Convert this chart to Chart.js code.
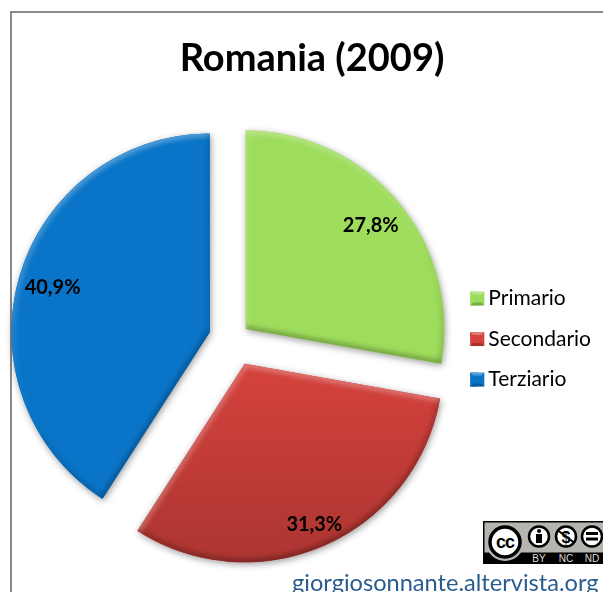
<!DOCTYPE html>
<html>
<head>
<meta charset="utf-8">
<title>Romania (2009)</title>
<script src="https://cdn.jsdelivr.net/npm/chart.js@4"></script>
<style>
    html, body { margin: 0; padding: 0; background: #fff; overflow: hidden; }
    #wrap { position: relative; width: 603px; height: 592px; overflow: hidden; }
    #frame { position: absolute; left: 10px; top: 11px; right: -5px; bottom: -5px; border-left: 2px solid #8a8a8a; border-top: 2px solid #8a8a8a; }
    canvas { position: absolute; left: 0; top: 0; }
    #badge { position: absolute; left: 483px; top: 521px; }
    #site { position: absolute; left: 292px; top: 568px; font: 23.6px Lato, sans-serif; color: #2b5c8f; white-space: nowrap; }
</style>
</head>
<body>
<div id="wrap">
    <div id="frame"></div>
    <canvas id="pie" width="603" height="592"></canvas>
    <svg id="badge" width="120" height="43" viewBox="0 0 120 43">
        <rect x="0" y="0" width="122" height="43" fill="#000"/>
        <rect x="1.5" y="1.5" width="120" height="30" fill="#b4b5ae"/>
        <circle cx="22" cy="21" r="19" fill="#b4b5ae"/>
        <circle cx="22" cy="21" r="15" fill="#fff" stroke="#000" stroke-width="3.5"/>
        <text x="22" y="27" text-anchor="middle" font-family="Liberation Sans" font-weight="bold" font-size="18" letter-spacing="-1">cc</text>
        <g fill="#fff" stroke="#000" stroke-width="2.5">
            <circle cx="56" cy="15.5" r="10"/>
            <circle cx="83" cy="15.5" r="10"/>
            <circle cx="109" cy="15.5" r="10"/>
        </g>
        <circle cx="56" cy="10" r="2"/>
        <rect x="53" y="13" width="6" height="9"/>
        <text x="83" y="21.5" text-anchor="middle" font-family="Liberation Sans" font-weight="bold" font-size="16">$</text>
        <line x1="75" y1="9.5" x2="91" y2="21.5" stroke="#000" stroke-width="2"/>
        <rect x="103" y="11" width="12" height="3"/>
        <rect x="103" y="16.5" width="12" height="3"/>
        <g fill="#ddd" font-family="Liberation Sans" font-size="10" text-anchor="middle">
            <text x="56" y="41">BY</text>
            <text x="83" y="41">NC</text>
            <text x="109" y="41">ND</text>
        </g>
    </svg>
    <div id="site">giorgiosonnante.altervista.org</div>
</div>
<script>
    const chartTitle = 'Romania (2009)';
    const sectors = ['Primario', 'Secondario', 'Terziario'];
    const shares = [27.8, 31.3, 40.9];
    const sliceColors = ['#9edc5c', '#d6423d', '#0a75c8'];

    // Chart.js only moves a slice by a quarter of its offset
    const sliceOffsets = [62, 108, 100];
    const pieRadius = 198.5;
    const labelDistance = [163, 174, 164];

    // ArcElement also grows wide slices when they are offset, this is how much
    function arcGrowth(arc) {
        return arc.options.offset / 4 * (1 - Math.sin(Math.min(Math.PI, arc.circumference)));
    }

    function sliceTip(arc) {
        const mid = (arc.startAngle + arc.endAngle) / 2;
        const shift = arc.options.offset / 4;
        return { x: arc.x + Math.cos(mid) * shift, y: arc.y + Math.sin(mid) * shift, mid };
    }

    function slicePath(ctx, tip, arc) {
        ctx.beginPath();
        ctx.moveTo(tip.x, tip.y);
        ctx.arc(tip.x, tip.y, pieRadius, arc.startAngle, arc.endAngle);
        ctx.closePath();
    }

    // light comes from top left: white when the edge faces it, black when it doesn't
    function edgeShade(angle) {
        const d = Math.cos(angle) * -0.35 + Math.sin(angle) * -0.94;
        return d > 0 ? `rgba(255,255,255,${(d * 0.28).toFixed(3)})` : `rgba(0,0,0,${(-d * 0.26).toFixed(3)})`;
    }

    const bevelPlugin = {
        id: 'bevel',
        afterLayout(chart) {
            // legend is narrower than the title centring needs
            chart.titleBlock.left += 6;
        },
        afterDatasetUpdate(chart) {
            // keep all three slices the same size
            chart.getDatasetMeta(0).data.forEach(arc => {
                arc.outerRadius = pieRadius - arcGrowth(arc);
            });
        },
        beforeDatasetsDraw(chart) {
            // soft shadow under the slices
            const ctx = chart.ctx;
            chart.getDatasetMeta(0).data.forEach((arc, i) => {
                ctx.save();
                ctx.shadowColor = 'rgba(0,0,0,0.4)';
                ctx.shadowBlur = 7;
                ctx.shadowOffsetX = 1;
                ctx.shadowOffsetY = 2;
                ctx.fillStyle = sliceColors[i];
                slicePath(ctx, sliceTip(arc), arc);
                ctx.fill();
                ctx.restore();
            });
        },
        afterDatasetsDraw(chart) {
            const ctx = chart.ctx;
            chart.getDatasetMeta(0).data.forEach((arc, i) => {
                const tip = sliceTip(arc);
                ctx.save();
                slicePath(ctx, tip, arc);
                ctx.clip();

                // red gets darker towards the bottom
                if (i === 1) {
                    const fade = ctx.createLinearGradient(0, tip.y, 0, tip.y + pieRadius);
                    fade.addColorStop(0, 'rgba(0,0,0,0)');
                    fade.addColorStop(1, 'rgba(0,0,0,0.2)');
                    ctx.fillStyle = fade;
                    ctx.fillRect(0, 0, chart.width, chart.height);
                }

                ctx.filter = 'blur(2px)';
                ctx.lineWidth = 8;

                // outer edge, the shade follows the angle round the rim
                const rim = ctx.createConicGradient(0, tip.x, tip.y);
                for (let s = 0; s <= 24; s++) {
                    rim.addColorStop(s / 24, edgeShade(s / 24 * Math.PI * 2));
                }
                ctx.strokeStyle = rim;
                ctx.beginPath();
                ctx.arc(tip.x, tip.y, pieRadius, arc.startAngle, arc.endAngle);
                ctx.stroke();

                // the two straight edges
                [[arc.startAngle, arc.startAngle - Math.PI / 2], [arc.endAngle, arc.endAngle + Math.PI / 2]].forEach(([a, normal]) => {
                    ctx.strokeStyle = edgeShade(normal);
                    ctx.beginPath();
                    ctx.moveTo(tip.x, tip.y);
                    ctx.lineTo(tip.x + Math.cos(a) * pieRadius, tip.y + Math.sin(a) * pieRadius);
                    ctx.stroke();
                });
                ctx.restore();

                // percent labels
                ctx.save();
                ctx.fillStyle = '#000';
                ctx.font = 'bold 20px Lato, sans-serif';
                ctx.textAlign = 'center';
                ctx.textBaseline = 'middle';
                const text = shares[i].toFixed(1).replace('.', ',') + '%';
                ctx.fillText(text, tip.x + Math.cos(tip.mid) * labelDistance[i], tip.y + Math.sin(tip.mid) * labelDistance[i] + 1.5);
                ctx.restore();
            });
        },
        afterDraw(chart) {
            // little bevelled squares over the legend boxes
            const ctx = chart.ctx;
            chart.legend.legendHitBoxes.forEach((box, i) => {
                const x = box.left, y = box.top + box.height / 2 - 7;
                ctx.save();
                ctx.fillStyle = sliceColors[i];
                ctx.fillRect(x, y, 14, 14);
                ctx.fillStyle = 'rgba(255,255,255,0.3)';
                ctx.beginPath();
                ctx.moveTo(x, y);
                ctx.lineTo(x + 14, y);
                ctx.lineTo(x + 11, y + 3);
                ctx.lineTo(x + 3, y + 3);
                ctx.fill();
                ctx.fillStyle = 'rgba(0,0,0,0.22)';
                ctx.beginPath();
                ctx.moveTo(x, y + 14);
                ctx.lineTo(x + 14, y + 14);
                ctx.lineTo(x + 11, y + 11);
                ctx.lineTo(x + 3, y + 11);
                ctx.fill();
                ctx.restore();
            });
        }
    };

    new Chart(document.getElementById('pie').getContext('2d'), {
        type: 'pie',
        data: {
            labels: sectors,
            datasets: [{
                data: shares,
                backgroundColor: sliceColors,
                borderWidth: 0,
                offset: sliceOffsets,
                radius: pieRadius
            }]
        },
        options: {
            responsive: false,
            animation: false,
            layout: { padding: { left: 17, right: 2, top: 0, bottom: 0 } },
            plugins: {
                tooltip: { enabled: false },
                title: {
                    display: true,
                    text: chartTitle,
                    color: '#000',
                    font: { family: 'Lato, sans-serif', size: 38, weight: 'bold', lineHeight: 1.2 },
                    padding: { top: 35.5, bottom: 5 }
                },
                legend: {
                    position: 'right',
                    fullSize: false,
                    labels: {
                        color: '#000',
                        font: { family: 'Lato, sans-serif', size: 21 },
                        boxWidth: 7.5,
                        boxHeight: 14,
                        padding: 19.5
                    }
                }
            }
        },
        plugins: [bevelPlugin]
    });
</script>
</body>
</html>
